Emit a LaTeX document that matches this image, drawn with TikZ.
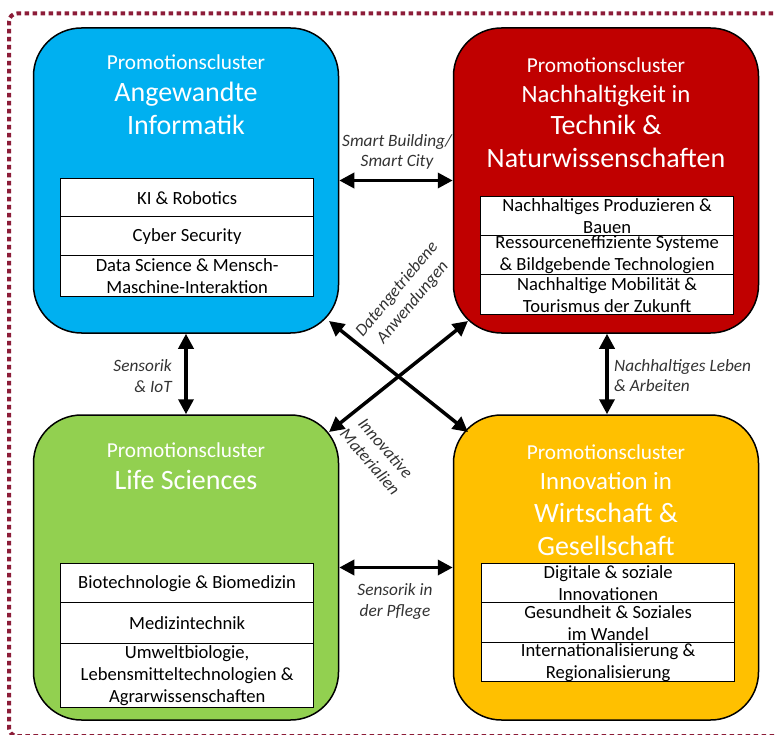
\documentclass[tikz,border=0pt]{standalone}
\usepackage{fontspec}
\setmainfont{Carlito}
\usetikzlibrary{arrows.meta}
\definecolor{cblue}{HTML}{00B0F0}
\definecolor{cred}{HTML}{C00000}
\definecolor{cgreen}{HTML}{92D050}
\definecolor{cyellow}{HTML}{FFC000}
\definecolor{bordercol}{RGB}{140,28,56}
\begin{document}
\begin{tikzpicture}[x=1pt,y=-1pt,
 cluster/.style={draw=black, line width=1.5pt, rounded corners=48pt, minimum width=305pt, minimum height=305pt, inner sep=0pt},
 item/.style={draw=black, fill=white, line width=1.3pt, minimum width=253pt, inner sep=0pt, anchor=north west},
 itemtext/.style={align=center, font=\fontsize{18.6}{22}\selectfont, inner sep=0pt, text=black},
 ptitle/.style={text=white, font=\fontsize{21.3}{25}\selectfont, anchor=base, inner sep=0pt},
 btitle/.style={text=white, font=\fontsize{28}{33}\selectfont, anchor=base, inner sep=0pt},
 mtitle/.style={text=white, font=\fontsize{24.8}{29}\selectfont, anchor=base, inner sep=0pt},
 dbl/.style={{Triangle[length=15pt,width=15pt]}-{Triangle[length=15pt,width=15pt]}, line width=3.5pt},
 lbl/.style={font=\fontsize{17.3}{20.5}\selectfont\itshape, inner sep=0pt, text=black!80}
]
\useasboundingbox (0,0) rectangle (776,735);
\clip (0,0) rectangle (776,735);
\fill[white] (0,0) rectangle (776,735);
% dotted frame
\draw[bordercol, line width=4pt, dash pattern=on 4.5pt off 3.5pt, rounded corners=8pt]
  (790,736) -- (9,736) -- (9,13.5) -- (790,13.5);

% clusters
\node[cluster, fill=cblue]   (blue)   at (186,180.5) {};
\node[cluster, fill=cred]    (red)    at (606,180.5) {};
\node[cluster, fill=cgreen]  (green)  at (186,567.5) {};
\node[cluster, fill=cyellow] (yellow) at (606,567.5) {};

% titles
\node[ptitle] (bt1) at (186,70) {Promotionscluster};
\node[btitle] (bt2) at (186,102) {Angewandte};
\node[btitle] (bt3) at (186,135) {Informatik};

\node[ptitle] (rt1) at (606,72.7) {Promotionscluster};
\node[mtitle] (rt2) at (606,102.7) {Nachhaltigkeit in};
\node[btitle] (rt3) at (606,135) {Technik \&};
\node[btitle] (rt4) at (606,168) {Naturwissenschaften};

\node[ptitle] (gt1) at (186,457) {Promotionscluster};
\node[btitle] (gt2) at (186,489) {Life Sciences};

\node[ptitle] (yt1) at (606,459.7) {Promotionscluster};
\node[mtitle] (yt2) at (606,489.7) {Innovation in};
\node[btitle] (yt3) at (606,522) {Wirtschaft \&};
\node[btitle] (yt4) at (606,555) {Gesellschaft};

% items blue
\node[item, minimum height=38pt] (b1) at (60,178) {};
\node[item, minimum height=39pt] (b2) at (60,216) {};
\node[item, minimum height=41pt] (b3) at (60,255) {};
\node[itemtext] (b1t) at (b1.center) {KI \& Robotics};
\node[itemtext] (b2t) at (b2.center) {Cyber Security};
\node[itemtext] (b3t) at (b3.center) {Data Science \& Mensch-\\Maschine-Interaktion};

% items red
\node[item, minimum height=39pt] (r1) at (480,196) {};
\node[item, minimum height=39pt] (r2) at (480,235) {};
\node[item, minimum height=40pt] (r3) at (480,274) {};
\node[itemtext] (r1t) at (r1.center) {Nachhaltiges Produzieren \&\\Bauen};
\node[itemtext] (r2t) at (r2.center) {Ressourceneffiziente Systeme\\\& Bildgebende Technologien};
\node[itemtext] (r3t) at (r3.center) {Nachhaltige Mobilität \&\\Tourismus der Zukunft};

% items green
\node[item, minimum height=39pt] (g1) at (60,563) {};
\node[item, minimum height=41pt] (g2) at (60,602) {};
\node[item, minimum height=64pt] (g3) at (60,643) {};
\node[itemtext] (g1t) at (g1.center) {Biotechnologie \& Biomedizin};
\node[itemtext] (g2t) at (g2.center) {Medizintechnik};
\node[itemtext] (g3t) at (g3.center) {Umweltbiologie,\\Lebensmitteltechnologien \&\\Agrarwissenschaften};

% items yellow
\node[item, minimum height=39pt] (y1) at (481,563) {};
\node[item, minimum height=40pt] (y2) at (481,602) {};
\node[item, minimum height=39pt] (y3) at (481,642) {};
\node[itemtext] (y1t) at (y1.center) {Digitale \& soziale\\Innovationen};
\node[itemtext] (y2t) at (y2.center) {Gesundheit \& Soziales\\im Wandel};
\node[itemtext] (y3t) at (y3.center) {Internationalisierung \&\\Regionalisierung};

% connectors
\draw[dbl] (blue.east) -- (red.west);
\draw[dbl] (green.east) -- (yellow.west);
\draw[dbl] (blue.south) -- (green.north);
\draw[dbl] ([xshift=1pt]red.south) -- ([xshift=1pt]yellow.north);
\coordinate (d1a) at (329,321);
\coordinate (d1b) at (468,432);
\coordinate (d2a) at (468,321);
\coordinate (d2b) at (329,432);
\draw[dbl] (d1a) -- (d1b);
\draw[dbl] (d2a) -- (d2b);

% labels (base anchor = baseline of last line)
\node[lbl, align=center, anchor=base] (l1) at (397,167) {Smart Building/\\Smart City};
\node[lbl, align=right, anchor=base east] (l2) at (172,392) {Sensorik\\\& IoT};
\node[lbl, align=left, anchor=base west] (l3) at (614,391.5) {Nachhaltiges Leben\\\& Arbeiten};
\node[lbl, align=center, anchor=base] (l4) at (395,616) {Sensorik in\\der Pflege};
\node[lbl, align=center, rotate=50] (l5) at (405,296) {Datengetriebene\\Anwendungen};
\node[lbl, align=center, rotate=-49] (l6) at (378,455) {Innovative\\Materialien};
\end{tikzpicture}
\end{document}
